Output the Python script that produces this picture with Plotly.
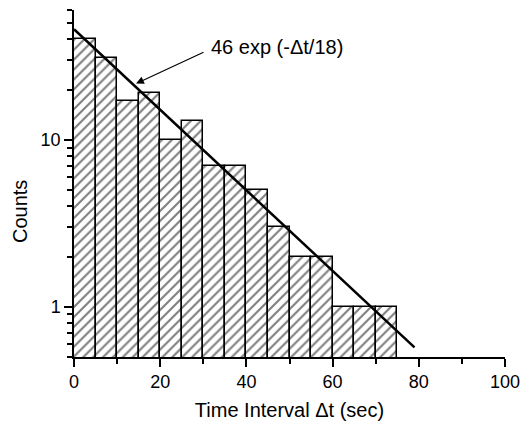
import numpy as np
import plotly.graph_objects as go

bin_starts = [0, 5, 10, 15, 20, 25, 30, 35, 40, 45, 50, 55, 60, 65, 70]
counts = [40, 31, 17, 19, 10, 13, 7, 7, 5, 3, 2, 2, 1, 1, 1]
bin_width = 5
fit_amp = 46
fit_tau = 18
fit_t = np.linspace(0, 79, 200)
fit_y = fit_amp * np.exp(-fit_t / fit_tau)

x_major = [0, 20, 40, 60, 80, 100]
x_minor = [10, 30, 50, 70, 90]
y_major = [1, 10]
y_labels = ["1", "10"]
y_minor = [0.5, 0.6, 0.7, 0.8, 0.9, 2, 3, 4, 5, 6, 7, 8, 9, 20, 30, 40, 50, 60]

font = "Liberation Sans, Arial, Helvetica, sans-serif"

fig = go.Figure()
fig.add_trace(go.Bar(
    x=[s + bin_width / 2 for s in bin_starts],
    y=counts,
    width=bin_width,
    marker=dict(
        color="white",
        line=dict(color="black", width=1.5),
        pattern=dict(shape="/", fgcolor="black", bgcolor="white", size=7, solidity=0.3),
    ),
    showlegend=False,
))
fig.add_trace(go.Scatter(
    x=fit_t, y=fit_y, mode="lines",
    line=dict(color="black", width=2.5),
    showlegend=False,
))

# arrow from label to fit line
fig.add_annotation(
    x=14.4, y=1.337,
    ax=30.4, ay=1.529, axref="x", ayref="y",
    text="", showarrow=True, arrowhead=2, arrowsize=1.3, arrowwidth=1.2,
    arrowcolor="black",
)
fig.add_annotation(
    xref="paper", yref="paper",
    x=(209 - 74) / 431, y=1 - (47 - 10) / 347,
    text="46 exp (-Δt/18)", showarrow=False,
    xanchor="left", yanchor="middle",
    font=dict(family=font, size=20, color="black"),
)
# y-axis title
fig.add_annotation(
    xref="paper", yref="paper",
    x=(20 - 74) / 431, y=1 - (212 - 10) / 347,
    text="Counts", showarrow=False, textangle=-90,
    xanchor="center", yanchor="middle",
    font=dict(family=font, size=20, color="black"),
)

fig.update_layout(
    width=521, height=421,
    margin=dict(l=74, r=16, t=10, b=64),
    paper_bgcolor="white", plot_bgcolor="white",
    font=dict(family=font, size=18, color="black"),
    bargap=0,
)
fig.update_xaxes(
    range=[0, 100], automargin=False,
    tickvals=x_major, ticktext=[str(v) for v in x_major],
    ticks="outside", ticklen=8, tickwidth=1.5, tickcolor="black",
    minor=dict(tickvals=x_minor, ticks="outside", ticklen=5, tickwidth=1.5, tickcolor="black"),
    showline=True, linecolor="black", linewidth=1.5,
    showgrid=False, zeroline=False,
    title=dict(text="Time Interval Δt (sec)", font=dict(family=font, size=20)),
    tickfont=dict(family=font, size=18),
)
fig.update_yaxes(
    type="log", automargin=False,
    range=[np.log10(0.5), np.log10(60)],
    tickvals=y_major, ticktext=y_labels,
    ticks="outside", ticklen=8, tickwidth=1.5, tickcolor="black",
    minor=dict(tickvals=y_minor, ticks="outside", ticklen=5, tickwidth=1.5, tickcolor="black"),
    showline=True, linecolor="black", linewidth=1.5,
    showgrid=False, zeroline=False,
    tickfont=dict(family=font, size=18),
)

fig.write_html(
    "out.html",
    config={"displayModeBar": False},
    post_script="document.body.style.margin='0';document.body.style.overflow='hidden';",
)
